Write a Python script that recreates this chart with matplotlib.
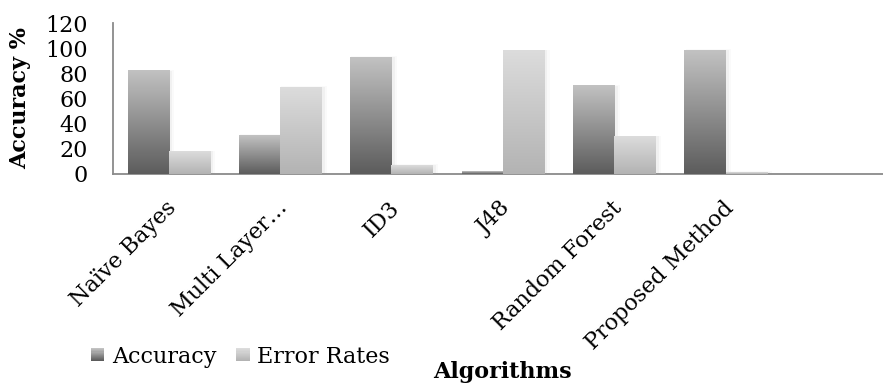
import numpy as np
import matplotlib
matplotlib.use("Agg")
import matplotlib.pyplot as plt
from matplotlib.patches import Rectangle
from matplotlib.legend_handler import HandlerBase
from matplotlib.colors import LinearSegmentedColormap

# ----------------------------------
# data
algorithms = ["Naïve Bayes", "Multi Layer…", "ID3", "J48",
              "Random Forest", "Proposed Method", ""]
accuracy = [82, 31, 93, 2, 70, 98.5, None]
error_rates = [18, 69, 7, 98, 30, 1.5, None]
series_names = ["Accuracy", "Error Rates"]
y_ticks = [0, 20, 40, 60, 80, 100, 120]

# ----------------------------------
# style
plt.rcParams['font.family'] = ['DejaVu Serif']
font_size = 16
acc_cols = ("#5c5c5c", "#c2c2c2")   # bottom, top
err_cols = ("#b3b3b3", "#dcdcdc")
bar_w = 0.37


def grad_cmap(cols):
    return LinearSegmentedColormap.from_list('g', list(cols))


def gradient_bars(ax, xs, vals, cols):
    cmap = grad_cmap(cols)
    grad = np.linspace(0, 1, 256).reshape(-1, 1)
    bars = ax.bar(xs, [0 if v is None else v for v in vals], bar_w,
                  color=cols[0], linewidth=0, zorder=2)
    for b in bars:
        x0, y0 = b.get_x(), b.get_y()
        w, h = b.get_width(), b.get_height()
        if h <= 0:
            continue
        # soft shadow on the right of the bar
        for k, a in [(0.04, 0.02), (0.02, 0.035)]:
            ax.add_patch(Rectangle((x0 + 0.01, y0), w + k, h + k * 15,
                                   color="#000000", alpha=a, lw=0, zorder=1))
        ax.imshow(grad, cmap=cmap, origin='lower', aspect='auto',
                  extent=(x0, x0 + w, y0, y0 + h), zorder=3)
    return bars


class GradHandler(HandlerBase):
    def __init__(self, cols):
        super().__init__()
        self.cols = cols

    def create_artists(self, legend, orig_handle, xdescent, ydescent,
                       width, height, fontsize, trans):
        cmap = grad_cmap(self.cols)
        side = width
        x0 = -xdescent
        yb = -ydescent + (height - side) / 2
        n = 12
        arts = []
        for i in range(n):
            r = Rectangle((x0, yb + side * i / n), side, side / n + 0.3,
                          facecolor=cmap(i / (n - 1)), lw=0, transform=trans)
            arts.append(r)
        return arts


fig = plt.figure(figsize=(8.83, 3.83), dpi=100)
ax = fig.add_axes([0.128, 0.5457, 0.883, 0.394])

x = np.arange(len(algorithms))
gradient_bars(ax, x - bar_w / 2, accuracy, acc_cols)
gradient_bars(ax, x + bar_w / 2, error_rates, err_cols)

ax.set_xlim(-0.5, len(algorithms) - 0.5)
ax.set_ylim(0, 120)
ax.set_yticks(y_ticks)
ax.set_yticklabels([str(t) for t in y_ticks], fontsize=font_size)
ax.tick_params(axis='y', length=0, pad=18)
ax.set_xticks(x + 0.04)
ax.set_xticklabels(algorithms, fontsize=font_size, rotation=45,
                   ha='right', va='center', rotation_mode='anchor')
ax.tick_params(axis='x', length=0, pad=22)

for s in ['top', 'right']:
    ax.spines[s].set_visible(False)
for s in ['left', 'bottom']:
    ax.spines[s].set_color("#8a8a8a")
    ax.spines[s].set_linewidth(1.3)

ax.set_ylabel("Accuracy %", fontsize=font_size, fontweight='bold')
ax.set_xlabel("Algorithms", fontsize=font_size, fontweight='bold')
ax.xaxis.set_label_coords(0.5, -1.24)
ax.yaxis.set_label_coords(-0.105, 0.5)

h1 = Rectangle((0, 0), 1, 1)
h2 = Rectangle((0, 0), 1, 1)
fig.legend([h1, h2], series_names, loc='lower left',
           bbox_to_anchor=(0.08, -0.012), ncol=2, frameon=False,
           fontsize=font_size, handlelength=0.6, handletextpad=0.35,
           columnspacing=0.9,
           handler_map={h1: GradHandler(acc_cols), h2: GradHandler(err_cols)})

fig.savefig("out.png", dpi=100)
